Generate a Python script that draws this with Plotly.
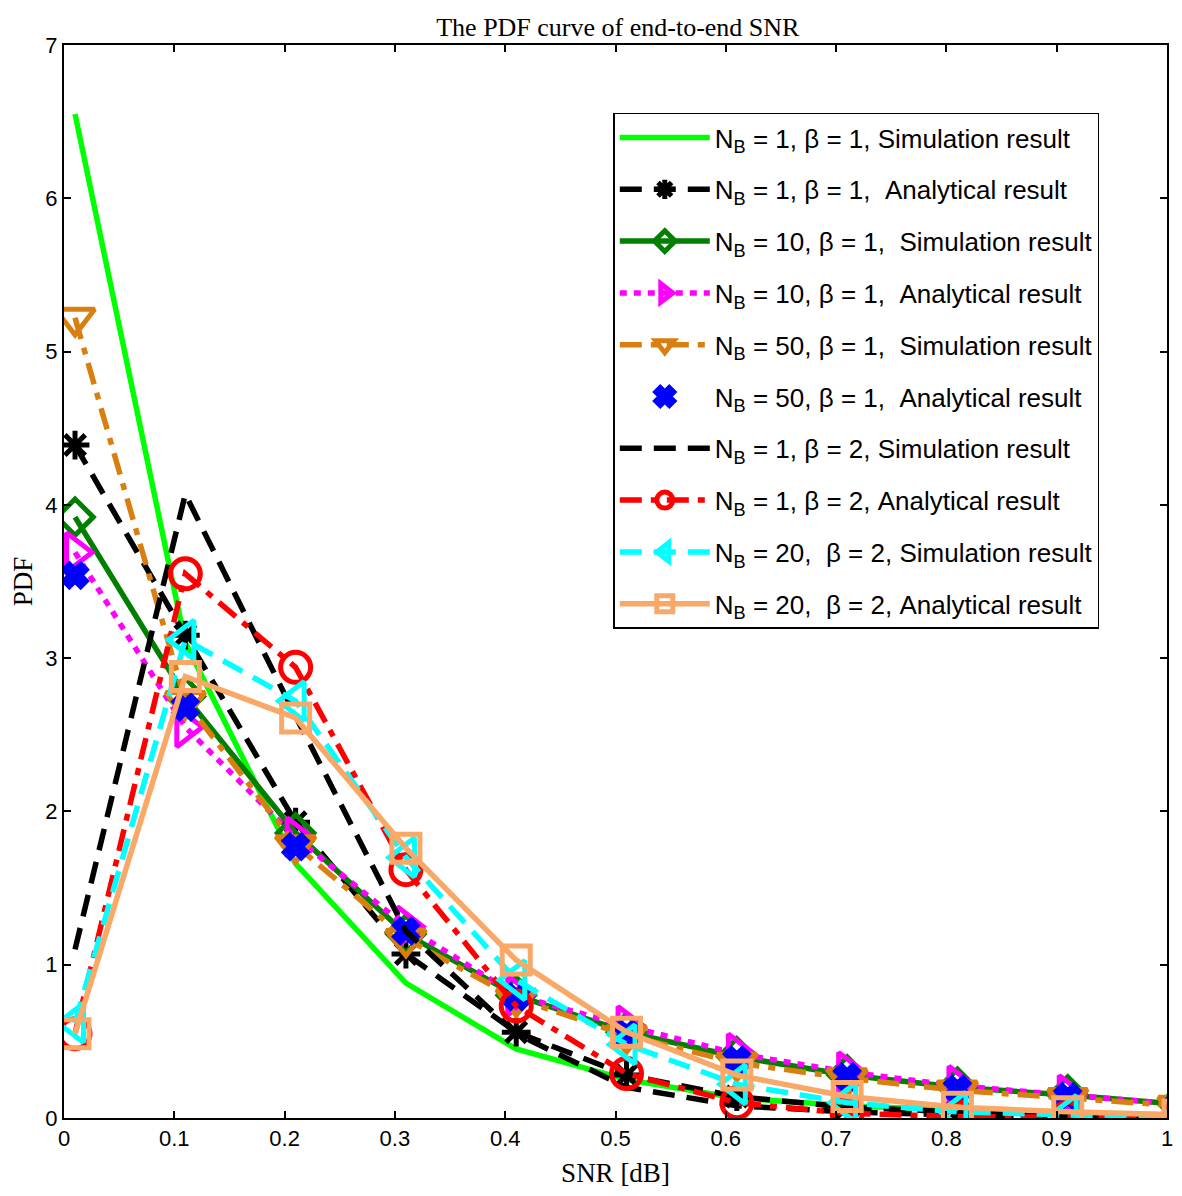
import plotly.graph_objects as go

# SNR grid (x axis)
snr = [0.01, 0.11, 0.21, 0.31, 0.41, 0.51, 0.61, 0.71, 0.81, 0.91, 1.01]

# PDF values
sim_nb1_b1 = [6.55, 3.10, 1.66, 0.88, 0.45, 0.25, 0.13, 0.08, 0.05, 0.03, 0.02]
ana_nb1_b1 = [4.39, 3.15, 1.93, 1.07, 0.56, 0.28, 0.14, 0.07, 0.04, 0.02, 0.01]
sim_nb10_b1 = [3.92, 2.75, 1.86, 1.20, 0.80, 0.56, 0.40, 0.28, 0.20, 0.15, 0.09]
ana_nb10_b1 = [3.69, 2.55, 1.83, 1.25, 0.80, 0.60, 0.42, 0.30, 0.21, 0.15, 0.09]
sim_nb50_b1 = [5.22, 2.72, 1.78, 1.17, 0.78, 0.54, 0.36, 0.26, 0.18, 0.13, 0.08]
ana_nb50_b1 = [3.54, 2.68, 1.77, 1.22, 0.79, 0.55, 0.38, 0.27, 0.19, 0.14, 0.08]
sim_nb1_b2 = [1.10, 4.07, 2.62, 1.22, 0.55, 0.20, 0.08, 0.04, 0.02, 0.01, 0.01]
ana_nb1_b2 = [0.55, 3.55, 2.94, 1.62, 0.73, 0.29, 0.10, 0.03, 0.01, 0.005, 0.0]
sim_nb20_b2 = [0.62, 3.12, 2.72, 1.70, 0.90, 0.48, 0.22, 0.10, 0.04, 0.02, 0.01]
ana_nb20_b2 = [0.55, 2.88, 2.61, 1.76, 1.03, 0.56, 0.28, 0.14, 0.07, 0.04, 0.02]

x_ticks = [0, 0.1, 0.2, 0.3, 0.4, 0.5, 0.6, 0.7, 0.8, 0.9, 1]
x_tick_text = ['0', '0.1', '0.2', '0.3', '0.4', '0.5', '0.6', '0.7', '0.8', '0.9', '1']
y_ticks = [0, 1, 2, 3, 4, 5, 6, 7]

# (name, values, colour, dash, marker symbol, marker size, mode)
series = [
    ('N<sub>B</sub> = 1, β = 1, Simulation result', sim_nb1_b1, '#00FF00', 'solid', None, 0, 'lines'),
    ('N<sub>B</sub> = 1, β = 1,  Analytical result', ana_nb1_b1, '#000000', '22px,12px', 'asterisk-open', 24, 'lines+markers'),
    ('N<sub>B</sub> = 10, β = 1,  Simulation result', sim_nb10_b1, '#007F00', 'solid', 'diamond-open', 28, 'lines+markers'),
    ('N<sub>B</sub> = 10, β = 1,  Analytical result', ana_nb10_b1, '#FF00FF', '7px,7px', 'triangle-right-open', 34, 'lines+markers'),
    ('N<sub>B</sub> = 50, β = 1,  Simulation result', sim_nb50_b1, '#D97F10', '22px,9px,7px,9px', 'triangle-down-open', 34, 'lines+markers'),
    ('N<sub>B</sub> = 50, β = 1,  Analytical result', ana_nb50_b1, '#0000FF', 'solid', 'x', 20, 'markers'),
    ('N<sub>B</sub> = 1, β = 2, Simulation result', sim_nb1_b2, '#000000', '22px,12px', None, 0, 'lines'),
    ('N<sub>B</sub> = 1, β = 2, Analytical result', ana_nb1_b2, '#FF0000', '22px,9px,7px,9px', 'circle-open', 30, 'lines+markers'),
    ('N<sub>B</sub> = 20,  β = 2, Simulation result', sim_nb20_b2, '#00FFFF', '22px,12px', 'triangle-left-open', 34, 'lines+markers'),
    ('N<sub>B</sub> = 20,  β = 2, Analytical result', ana_nb20_b2, '#F9A868', 'solid', 'square-open', 28, 'lines+markers'),
]

fig = go.Figure()
for i, (name, vals, color, dash, symbol, msize, mode) in enumerate(series):
    kw = dict(x=snr, y=vals, name=name, mode=mode, legendgroup=str(i),
              line=dict(color=color, width=5.5, dash=dash))
    if symbol:
        kw['marker'] = dict(symbol=symbol, size=msize, color=color,
                            line=dict(color=color, width=5))
    fig.add_trace(go.Scatter(**kw))

axis_common = dict(showline=True, linecolor='black', linewidth=2, mirror='allticks',
                   ticks='inside', ticklen=7, tickwidth=1.5, tickcolor='black',
                   showgrid=False, zeroline=False, automargin=False,
                   ticklabeloverflow='allow',
                   tickfont=dict(family='Liberation Sans, Arial', size=22, color='black'))

# page body adds an 8px margin on every side, so keep the figure inside the window
fig.update_layout(
    width=1166, height=1180,
    margin=dict(l=56, r=7, t=37, b=70, autoexpand=False),
    paper_bgcolor='white', plot_bgcolor='white',
    title=dict(text='The PDF curve of end-to-end SNR', x=0.523, xanchor='center',
               y=0.992, yanchor='top', pad=dict(t=0, b=0), automargin=False,
               font=dict(family='Liberation Serif, Times New Roman', size=26, color='black')),
    xaxis=dict(range=[0, 1], tickvals=x_ticks, ticktext=x_tick_text,
               title=dict(text='SNR [dB]', standoff=23,
                          font=dict(family='Liberation Serif, Times New Roman', size=27, color='black')),
               **axis_common),
    yaxis=dict(range=[0, 7], tickvals=y_ticks,
               title=dict(text='PDF', standoff=30,
                          font=dict(family='Liberation Serif, Times New Roman', size=27, color='black')),
               **axis_common),
    legend=dict(x=0.498, y=0.937, xanchor='left', yanchor='top',
                bgcolor='white', bordercolor='black', borderwidth=1.5,
                font=dict(family='Liberation Sans, Arial', size=26, color='black'),
                traceorder='grouped', tracegroupgap=15, itemwidth=90),
    showlegend=True,
)

fig.write_html("out.html")
